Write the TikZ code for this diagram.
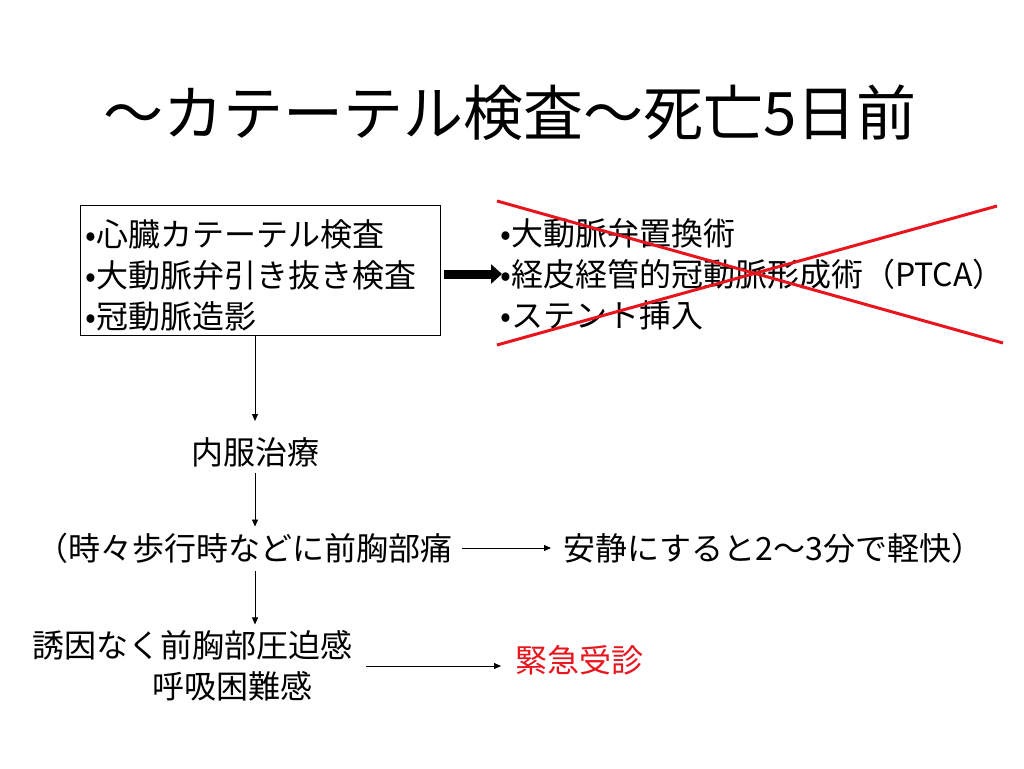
\documentclass[tikz,border=0pt]{standalone}
\usepackage{fontspec}
\setmainfont{Noto Sans CJK JP}
\usetikzlibrary{arrows.meta}
\definecolor{crossred}{RGB}{232,20,30}
\tikzset{
  txt/.style={inner sep=0pt,font=\fontsize{32}{41}\selectfont},
  flow/.style={-{Triangle[length=7pt,width=6pt]},line width=0.8pt},
}
\begin{document}
\begin{tikzpicture}[x=1pt,y=-1pt]
    \useasboundingbox(0,0)rectangle(1024,768);
    \node(0)at(510,113){\fontsize{60}{62}\selectfont ～カテーテル検査～死亡5日前};
    \node(1)[txt,draw,line width=0.8pt,align=left,anchor=north west,inner xsep=5pt,inner ysep=0pt,text width=350pt,minimum height=130pt]at(80,205){\rule{0pt}{36pt}•心臓カテーテル検査\\•大動脈弁引き抜き検査\\•冠動脈造影};
    \node(2)[txt,align=left,anchor=west]at(500,274){•大動脈弁置換術\\•経皮経管的冠動脈形成術（PTCA）\\•ステント挿入};
    \node(3)[txt]at(255,452){内服治療};
    \node(4)[txt,anchor=west]at(36,548){（時々歩行時などに前胸部痛};
    \node(5)[txt,anchor=west]at(563,548){安静にすると2～3分で軽快）};
    \node(6)[txt,align=left,anchor=west]at(32,666){誘因なく前胸部圧迫感\\\hspace*{120pt}呼吸困難感};
    \node(7)[txt,anchor=west,text=crossred]at(515,660){緊急受診};
    \coordinate(8)at(497,201);
    \coordinate(9)at(1003,343);
    \coordinate(10)at(497,345);
    \coordinate(11)at(997,206);
    \draw[-{Triangle[length=11pt,width=19pt]},line width=9pt,shorten <=3pt,shorten >=-2pt](1.east|-2.west)--(2.west);
    \draw[flow,shorten >=16pt](1.south-|3)--(3.north);
    \draw[flow,shorten <=6pt,shorten >=6pt](3.south)--(4.north-|3);
    \draw[flow,shorten <=10pt,shorten >=12pt](4.east)--(5.west);
    \draw[flow,shorten <=8pt,shorten >=6pt](4.south-|3)--(6.north-|3);
    \draw[flow,shorten <=14pt,shorten >=14pt](6.east)--(7.west|-6.east);
    \draw[crossred,line width=3pt](8)--(9);
    \draw[crossred,line width=3pt](10)--(11);
\end{tikzpicture}
\end{document}
